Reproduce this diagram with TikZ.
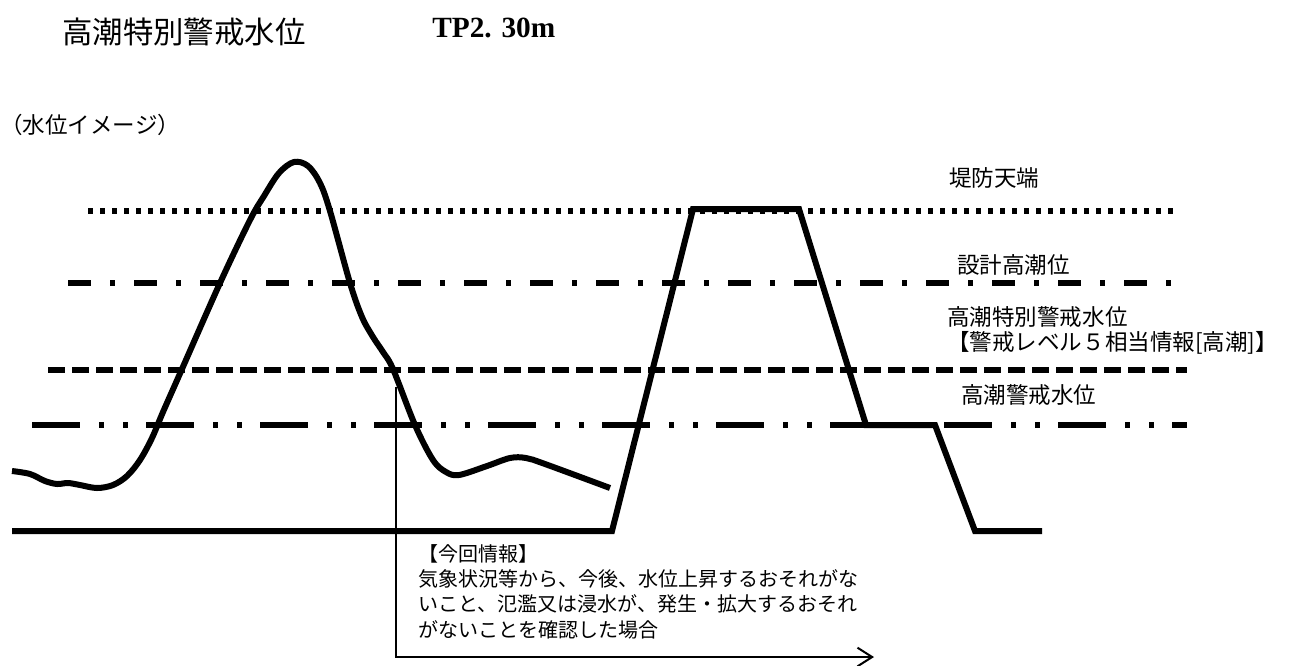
\documentclass[tikz,border=0pt]{standalone}
\usepackage{fontspec}
\usepackage{tikz}
\usetikzlibrary{arrows.meta}
\newfontfamily\jpfont{Noto Sans CJK JP}
\newfontfamily\tpfont{Liberation Serif}

\begin{document}
\begin{tikzpicture}[x=0.75pt,y=-0.75pt,
        level/.style={line width=4.5pt},
        levelname/.style={anchor=west,inner sep=0pt,align=left,
            font=\jpfont\fontsize{16.9}{18.8}\selectfont}]

        \useasboundingbox (0,0) rectangle (1294,665);

        % Title
        \node [anchor=west,inner sep=0pt,
            font=\jpfont\fontsize{22.8}{26}\selectfont] (title) at (62,32) {高潮特別警戒水位};
        \node [anchor=west,inner sep=0pt,
            font=\tpfont\bfseries\fontsize{22}{26}\selectfont] (tp) at (432,28) {TP2. 30m};
        \node [levelname] (image) at (0,125) {（水位イメージ）};

        % Levels
        \draw [level,dash pattern=on 3.75pt off 5.25pt] (88,211) -- (1175,211);
        \draw [level,dash pattern=on 17.25pt off 14.25pt on 3.75pt off 14.25pt] (68,283) -- (1175,283);
        \draw [level,dash pattern=on 12.75pt off 5.25pt] (48,370) -- (1187,370);
        \draw [level,dash pattern=on 36pt off 14.25pt on 3.75pt off 14.25pt on 3.75pt off 13.5pt] (32,425) -- (1187,425);

        % Level names
        \node [levelname] (crest) at (949,178) {堤防天端};
        \node [levelname] (design) at (957,265) {設計高潮位};
        \node [levelname] (special) at (947,330) {高潮特別警戒水位\\【警戒レベル５相当情報[高潮]】};
        \node [levelname] (warning) at (961,395) {高潮警戒水位};

        % Water level
        \draw [level,line join=round] plot [smooth,tension=0.55] coordinates {
            (12,471) (30,474) (45,481) (57,484) (68,483) (80,485) (97,488)
            (113,485) (127,476) (140,460) (152,438) (163,412) (182,369)
            (220,283) (250,220) (264,196) (279,173) (294,162) (308,166)
            (320,183) (330,211) (350,283) (362,317) (373,337) (383,352)
            (393,369) (415,425) (433,460) (446,472) (459,475) (487,466)
            (510,458) (526,458) (545,464) (610,488)};

        % Ground and levee
        \draw [level,line join=miter] (12,531) -- (612,531) -- (693,209) -- (799,209)
            -- (866,425) -- (935,425) -- (975,531) -- (1042,531);

        % This information
        \coordinate (info top) at (396,387);
        \coordinate (info end) at (874,657);
        \draw [line width=1.5pt,-{Straight Barb[length=11pt,width=14pt]}] (info top) |- (info end);
        \node [anchor=north west,inner sep=0pt,align=left,
            font=\jpfont\fontsize{15}{19}\selectfont] (info) at (418,544)
            {【今回情報】\\気象状況等から、今後、水位上昇するおそれがな\\いこと、氾濫又は浸水が、発生・拡大するおそれ\\がないことを確認した場合};

\end{tikzpicture}
\end{document}
